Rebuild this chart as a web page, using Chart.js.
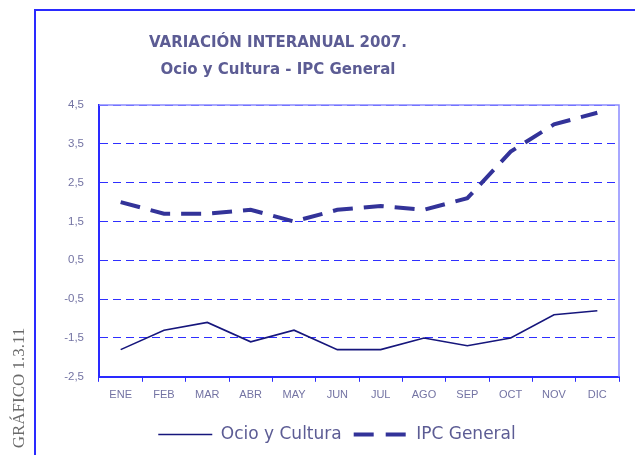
<!DOCTYPE html>
<html>
<head>
<meta charset="utf-8">
<script src="https://cdn.jsdelivr.net/npm/chart.js@4.4.1/dist/chart.umd.min.js"></script>
<style>
html,body{margin:0;padding:0;background:#fff;}
#wrap{position:relative;width:635px;height:455px;}
</style>
</head>
<body>
<div id="wrap"><canvas id="c" width="635" height="455"></canvas></div>
<script>
const months = ['ENE','FEB','MAR','ABR','MAY','JUN','JUL','AGO','SEP','OCT','NOV','DIC'];
const ocioCultura = [-1.8,-1.3,-1.1,-1.6,-1.3,-1.8,-1.8,-1.5,-1.7,-1.5,-0.9,-0.8];
const ipcGeneral = [2.0,1.7,1.7,1.8,1.5,1.8,1.9,1.8,2.1,3.3,4.0,4.3];
const titleLines = ['VARIACIÓN INTERANUAL 2007.','Ocio y Cultura - IPC General'];
const sideLabel = 'GRÁFICO 1.3.11';

const decor = {
  id:'decor',
  beforeDraw(chart){
    const ctx = chart.ctx;
    ctx.save();
    ctx.strokeStyle = '#2a2aff';
    ctx.lineWidth = 2;
    ctx.beginPath();
    ctx.moveTo(35,456); ctx.lineTo(35,10); ctx.lineTo(636,10);
    ctx.stroke();
    // title
    ctx.fillStyle = '#5c5c94';
    ctx.font = 'bold 15px "DejaVu Sans"';
    ctx.textAlign = 'center';
    ctx.textBaseline = 'middle';
    ctx.fillText(titleLines[0], 278, 43);
    ctx.fillText(titleLines[1], 278, 70);
    // side label
    ctx.translate(20, 388);
    ctx.rotate(-Math.PI/2);
    ctx.fillStyle = '#6a6a6a';
    ctx.font = '17px "Liberation Serif"';
    ctx.fillText(sideLabel, 0, 0);
    ctx.restore();
  },
  beforeDatasetsDraw(chart){
    const {ctx, chartArea:a} = chart;
    ctx.save();
    ctx.strokeStyle = '#8a8aff';
    ctx.lineWidth = 1.5;
    ctx.beginPath();
    ctx.moveTo(a.left, a.top); ctx.lineTo(a.right, a.top); ctx.lineTo(a.right, a.bottom);
    ctx.stroke();
    ctx.restore();
  }
};

new Chart(document.getElementById('c'), {
  type:'line',
  data:{
    labels: months,
    datasets:[
      {label:'Ocio y Cultura', data: ocioCultura, borderColor:'#16167c', backgroundColor:'#16167c', borderWidth:1.6, pointRadius:0, tension:0, fill:false},
      {label:'IPC General', data: ipcGeneral, borderColor:'#333399', backgroundColor:'#333399', borderWidth:4, borderDash:[20,11], pointRadius:0, tension:0, fill:false}
    ]
  },
  options:{
    responsive:false,
    animation:false,
    layout:{padding:{left:55,right:16,top:105,bottom:2}},
    plugins:{
      title:{display:false},
      tooltip:{enabled:false},
      legend:{
        position:'bottom',
        labels:{
          usePointStyle:true,
          pointStyle:'line',
          pointStyleWidth:54,
          boxHeight:16,
          color:'#5c5c94',
          font:{family:'"DejaVu Sans"', size:17},
          padding:12,
          generateLabels(chart){
            return chart.data.datasets.map((ds,i)=>({
              text: ds.label,
              fillStyle: ds.borderColor,
              strokeStyle: ds.borderColor,
              lineWidth: ds.borderWidth,
              lineDash: ds.borderDash ? [20,12] : [],
              lineCap:'butt',
              pointStyle:'line',
              fontColor:'#5c5c94',
              hidden:false,
              datasetIndex:i
            }));
          }
        }
      }
    },
    scales:{
      x:{
        offset:true,
        afterFit(s){ s.height += 5; },
        grid:{display:true, drawOnChartArea:false, drawTicks:true, tickLength:5, color:'#2a2aff', offset:true},
        border:{display:true, color:'#2a2aff', width:2},
        ticks:{color:'#7373a3', font:{family:'"Liberation Sans"', size:11}, padding:7, maxRotation:0}
      },
      y:{
        min:-2.5, max:4.5,
        afterFit(s){ s.width = 44; },
        grid:{display:true, drawTicks:false, color:'#2f2fff', lineWidth:1},
        border:{display:true, color:'#2a2aff', width:2, dash:[8,5]},
        ticks:{stepSize:1, color:'#7373a3', font:{family:'"Liberation Sans"', size:11.5}, padding:15,
          callback:(v)=> Number(v).toFixed(1).replace('.', ',')}
      }
    }
  },
  plugins:[decor]
});
</script>
</body>
</html>
